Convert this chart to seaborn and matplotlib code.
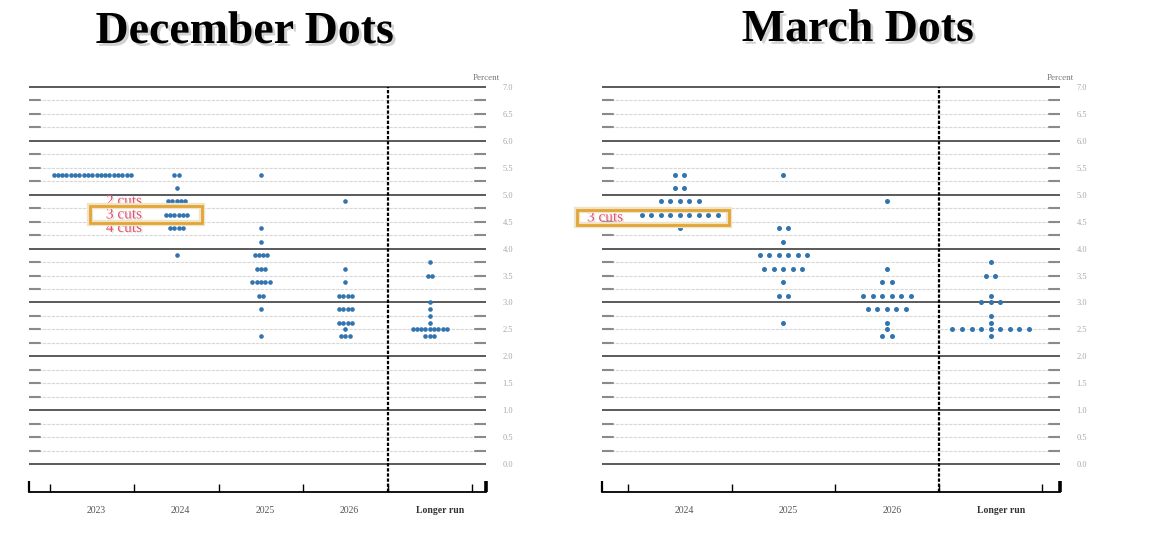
import numpy as np
import pandas as pd
import matplotlib
matplotlib.use("Agg")
import matplotlib.pyplot as plt
import matplotlib.patheffects as pe
import matplotlib.transforms as mtransforms
from matplotlib.patches import Rectangle
import seaborn as sns

# ---------------- data ----------------
dec_categories = ["2023", "2024", "2025", "2026", "Longer run"]
dec_2023_rates = [5.375]
dec_2023_counts = [19]
dec_2024_rates = [5.375, 5.125, 4.875, 4.625, 4.375, 3.875]
dec_2024_counts = [2, 1, 5, 6, 4, 1]
dec_2025_rates = [5.375, 4.375, 4.125, 3.875, 3.625, 3.375, 3.125, 2.875, 2.375]
dec_2025_counts = [1, 1, 1, 4, 3, 5, 2, 1, 1]
dec_2026_rates = [4.875, 3.625, 3.375, 3.125, 2.875, 2.625, 2.5, 2.375]
dec_2026_counts = [1, 1, 1, 4, 4, 4, 1, 3]
dec_lr_rates = [3.75, 3.5, 3.0, 2.875, 2.75, 2.625, 2.5, 2.375]
dec_lr_counts = [1, 2, 1, 1, 1, 1, 9, 3]

mar_categories = ["2024", "2025", "2026", "Longer run"]
mar_2024_rates = [5.375, 5.125, 4.875, 4.625, 4.375]
mar_2024_counts = [2, 2, 5, 9, 1]
mar_2025_rates = [5.375, 4.375, 4.125, 3.875, 3.625, 3.375, 3.125, 2.625]
mar_2025_counts = [1, 2, 1, 6, 5, 1, 2, 1]
mar_2026_rates = [4.875, 3.625, 3.375, 3.125, 2.875, 2.625, 2.5, 2.375]
mar_2026_counts = [1, 1, 2, 6, 5, 1, 1, 2]
mar_lr_rates = [3.75, 3.5, 3.125, 3.0, 2.75, 2.625, 2.5, 2.375]
mar_lr_counts = [1, 2, 1, 3, 1, 1, 9, 1]

y_tick_values = [i * 0.5 for i in range(15)]
dec_cut_labels = [("2 cuts", 4.875), ("3 cuts", 4.625), ("4 cuts", 4.375)]
mar_cut_labels = [("3 cuts", 4.625)]

# ---------------- style ----------------
sns.set_theme(style="white")
plt.rcParams["font.family"] = ["Liberation Serif", "DejaVu Serif"]

DOT = "#3274b0"
W, H = 1172, 534
fig = plt.figure(figsize=(W / 100, H / 100), dpi=100)
fig.patch.set_facecolor("white")

YLIM = (-0.52, 7.186)


def build_df(columns, spacing):
    rows = []
    for ci, (rates, counts) in enumerate(columns):
        for r, n in zip(rates, counts):
            offs = (np.arange(n) - (n - 1) / 2.0) * spacing
            for o in offs:
                rows.append({"x": ci + o, "rate": r})
    return pd.DataFrame(rows)


def panel(rect_px, categories, columns, spacing, dot_s, xr, lab_shift, lr_shift):
    l, r, t, b = rect_px
    ax = fig.add_axes([l / W, 1 - b / H, (r - l) / W, (b - t) / H])
    ax.set_xlim(*xr)
    ax.set_ylim(*YLIM)
    ncat = len(categories)
    span = xr[1] - xr[0]
    dash = 0.025 * span
    for k in range(29):
        y = k * 0.25
        if k % 4 == 0:
            ax.plot(xr, [y, y], color="#5a5a5a", lw=1.4, zorder=1, solid_capstyle="butt")
        else:
            ax.plot(xr, [y, y], color="#d8d8d8", lw=0.8, zorder=1, ls=(0, (3, 1)))
            ax.plot([xr[0], xr[0] + dash], [y, y], color="#8a8a8a", lw=1.5, zorder=1)
            ax.plot([xr[1] - dash, xr[1]], [y, y], color="#8a8a8a", lw=1.5, zorder=1)
    sep = ncat - 1.5
    top_frac = (7.0 - YLIM[0]) / (YLIM[1] - YLIM[0])
    ax.axvline(sep, ymin=0, ymax=top_frac, color="black", lw=1.6, ls=(0, (1.5, 0.8)), zorder=2)
    df = build_df(columns, spacing)
    sns.scatterplot(data=df, x="x", y="rate", ax=ax, color=DOT, s=dot_s,
                    linewidth=0, zorder=3, legend=False)
    ax.set_xlabel("")
    ax.set_ylabel("")
    for s in ["top", "left", "right"]:
        ax.spines[s].set_visible(False)
    ax.spines["bottom"].set_color("black")
    ax.spines["bottom"].set_linewidth(1.3)
    bounds = [i - 0.5 for i in range(ncat + 1)]
    ax.set_xticks(bounds)
    ax.set_xticklabels([""] * len(bounds))
    ax.tick_params(axis="x", which="major", direction="in", length=6, width=1,
                   color="black", bottom=True)
    ax.set_xticks(list(range(ncat)), minor=True)
    ax.set_xticklabels(categories, minor=True)
    ax.tick_params(axis="x", which="minor", length=0, pad=10, labelsize=7, labelcolor="#555")
    for lab in ax.get_xticklabels(minor=True):
        shift = lab_shift
        if lab.get_text() == "Longer run":
            lab.set_fontweight("bold")
            lab.set_color("#333")
            shift = lr_shift
        lab.set_transform(lab.get_transform() +
                          mtransforms.ScaledTranslation(shift / 100, 0, fig.dpi_scale_trans))
    for xe, lw in [(xr[0], 1.6), (xr[1], 2.6)]:
        ax.plot([xe, xe], [YLIM[0], YLIM[0] + 0.2], color="black", lw=lw,
                clip_on=False, zorder=4, solid_capstyle="butt")
    ax.yaxis.tick_right()
    ax.set_yticks(y_tick_values)
    ax.set_yticklabels([f"{v:.1f}" for v in y_tick_values])
    ax.tick_params(axis="y", length=0, pad=12, labelsize=6, labelcolor="#a8a8a8")
    ax.grid(False)
    ax.text(xr[1], 7.1, "Percent", ha="center", va="bottom", fontsize=6.5, color="#777")
    return ax


dec_cols = [(dec_2023_rates, dec_2023_counts), (dec_2024_rates, dec_2024_counts),
            (dec_2025_rates, dec_2025_counts), (dec_2026_rates, dec_2026_counts),
            (dec_lr_rates, dec_lr_counts)]
mar_cols = [(mar_2024_rates, mar_2024_counts), (mar_2025_rates, mar_2025_counts),
            (mar_2026_rates, mar_2026_counts), (mar_lr_rates, mar_lr_counts)]

ax1 = panel((29, 486, 77, 492), dec_categories, dec_cols, 0.051, 11, (-0.75, 4.667), 4, 10)
ax2 = panel((602, 1060, 77, 492), mar_categories, mar_cols, 0.092, 13, (-0.75, 3.67), 5, 11)

# annotations
shadow_txt = [pe.SimplePatchShadow(offset=(1, -1), shadow_rgbFace="#bbb", alpha=0.4), pe.Normal()]
glow_box = [pe.Stroke(linewidth=4.5, foreground="#efe3c8"), pe.Normal()]
for lab, y in dec_cut_labels:
    ax1.text(0.376, y, lab, ha="center", va="center", fontsize=11, color="#e4506c",
             path_effects=shadow_txt, zorder=5)
ax1.add_patch(Rectangle((-0.027, 4.475), 1.327, 0.315, fill=False, ec="#e3a535", lw=2,
                        zorder=5, path_effects=glow_box))
for lab, y in mar_cut_labels:
    ax2.text(-0.72, 4.57, lab, ha="center", va="center", fontsize=11, color="#e4506c",
             path_effects=shadow_txt, zorder=5, clip_on=False)
ax2.add_patch(Rectangle((-0.99, 4.43), 1.466, 0.29, fill=False, ec="#e3a535", lw=2,
                        zorder=5, clip_on=False, path_effects=glow_box))

# titles
title_pe = [pe.SimplePatchShadow(offset=(2, -2), shadow_rgbFace="#999", alpha=0.45), pe.Normal()]
fig.text(245 / W, 1 - 32 / H, "December Dots", ha="center", va="center", fontsize=33,
         fontweight="bold", color="black", path_effects=title_pe)
fig.text(858 / W, 1 - 30 / H, "March Dots", ha="center", va="center", fontsize=33,
         fontweight="bold", color="black", path_effects=title_pe)

fig.savefig("out.png", dpi=100, facecolor="white")
